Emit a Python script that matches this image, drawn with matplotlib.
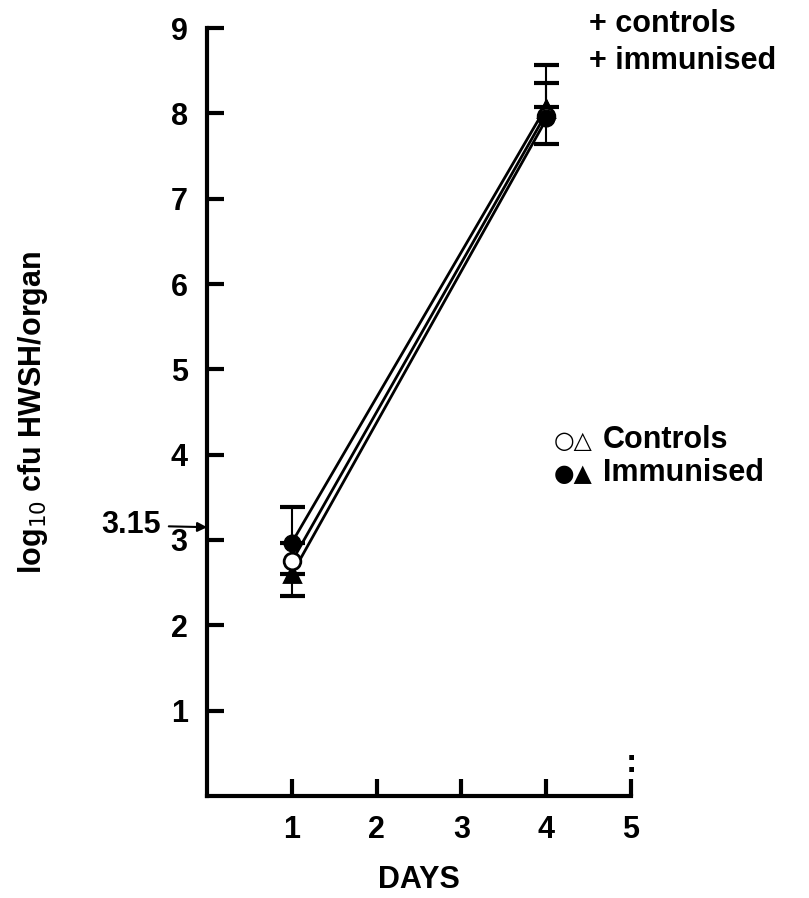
import matplotlib
matplotlib.use("Agg")
import matplotlib.pyplot as plt

# Days sampled
days = [1, 4]

# log10 cfu per organ, plotted symbols
ctrl_circle = [2.75, 7.97]
ctrl_triangle = [2.60, 8.05]
imm_circle = [2.97, 7.95]
imm_triangle = [2.60, 8.07]

# growth lines joining the group means
line_a = [2.97, 8.08]
line_b = [2.75, 8.00]
line_c = [2.60, 7.93]

# error bar limits around selected means
eb_day1_upper = 3.39
eb_day1_lower = 2.34
eb_day4_upper_a = 8.57
eb_day4_upper_b = 8.36
eb_day4_lower = 7.64

y_ticks = [1, 2, 3, 4, 5, 6, 7, 8, 9]
x_ticks = [1, 2, 3, 4, 5]
challenge_dose = 3.15

plt.rcParams['font.family'] = ['Liberation Sans', 'DejaVu Sans']
FS = 22

fig = plt.figure(figsize=(8.09, 8.98), dpi=100)
ax = fig.add_axes([0.256, 0.1136, 0.524, 0.8552])
ax.set_xlim(0, 5)
ax.set_ylim(0, 9)

lw = 2.0
for line in (line_a, line_b, line_c):
    ax.plot(days, line, color='black', lw=lw, zorder=2)

ebkw = dict(fmt='none', ecolor='black', elinewidth=1.5, capsize=9, capthick=3, zorder=1)
ax.errorbar([1], [imm_circle[0]], yerr=[[0], [eb_day1_upper - imm_circle[0]]], **ebkw)
ax.errorbar([1], [imm_triangle[0]], yerr=[[imm_triangle[0] - eb_day1_lower], [0]], **ebkw)
ax.errorbar([4], [imm_triangle[1]], yerr=[[0], [eb_day4_upper_a - imm_triangle[1]]], **ebkw)
ax.errorbar([4], [imm_circle[1]], yerr=[[imm_circle[1] - eb_day4_lower], [eb_day4_upper_b - imm_circle[1]]], **ebkw)

ms = 12
ax.plot(days, ctrl_triangle, linestyle='none', marker='^', ms=ms, mfc='white', mec='black', mew=2, zorder=3)
ax.plot(days, imm_triangle, linestyle='none', marker='^', ms=ms, mfc='black', mec='black', zorder=4)
ax.plot(days, ctrl_circle, linestyle='none', marker='o', ms=ms, mfc='white', mec='black', mew=2, zorder=5)
ax.plot(days, imm_circle, linestyle='none', marker='o', ms=ms, mfc='black', mec='black', zorder=6)

for side in ['top', 'right']:
    ax.spines[side].set_visible(False)
for side in ['left', 'bottom']:
    ax.spines[side].set_linewidth(3)

ax.set_xticks(x_ticks)
ax.set_yticks(y_ticks)
ax.tick_params(direction='in', length=12, width=3, labelsize=FS, pad=14)
for lab in ax.get_xticklabels() + ax.get_yticklabels():
    lab.set_fontweight('bold')

ax.set_xlabel('DAYS', fontsize=FS, fontweight='bold', labelpad=14)
ax.set_ylabel('log$_{10}$ cfu HWSH/organ', fontsize=FS, fontweight='bold')
ax.yaxis.set_label_coords(-0.37, 0.5)

# challenge dose marker
ax.annotate('3.15', xy=(0, challenge_dose), xycoords='data',
            xytext=(-0.55, challenge_dose + 0.02), textcoords='data',
            ha='right', va='center', fontsize=FS, fontweight='bold',
            arrowprops=dict(arrowstyle='-|>', color='black', lw=1.5, mutation_scale=14,
                            shrinkA=4, shrinkB=0),
            annotation_clip=False)

ax.text(5, 0.38, ':', ha='center', va='center', fontsize=24, fontweight='bold')

ax.text(0.728, 0.99, '+ controls\n+ immunised', transform=fig.transFigure,
        fontsize=FS, fontweight='bold', va='top', ha='left', linespacing=1.3)

# symbol key
key_rows = [('\u25cb\u25b3', 'Controls', 0.501), ('\u25cf\u25b2', 'Immunised', 0.464)]
for sym, word, yy in key_rows:
    fig.text(0.684, yy, sym, fontsize=17, family=['DejaVu Sans'], va='baseline', ha='left')
    fig.text(0.745, yy, word, fontsize=FS, fontweight='bold', va='baseline', ha='left')

fig.savefig('out.png', dpi=100)
